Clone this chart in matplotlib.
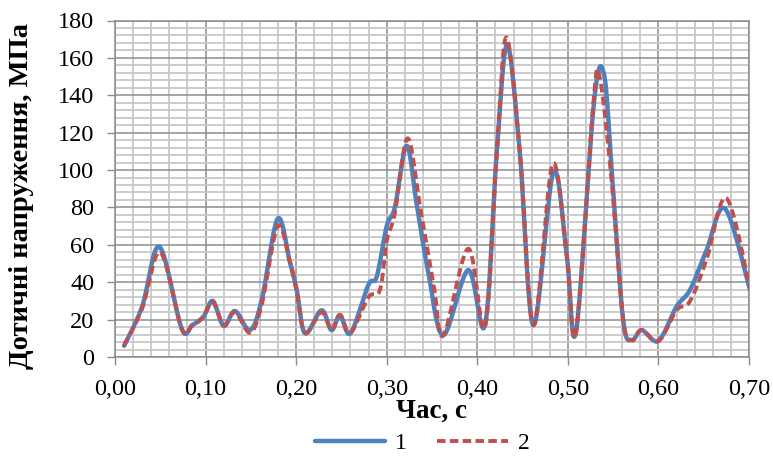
import numpy as np
import matplotlib
matplotlib.use("Agg")
import matplotlib.pyplot as plt
from matplotlib.ticker import MultipleLocator, FuncFormatter

# Series 1 (blue, solid)
t1 = [0.010, 0.030, 0.049, 0.0736, 0.085, 0.0975, 0.108, 0.120, 0.1325, 0.149, 0.162, 0.1796,
      0.193, 0.2006, 0.2098, 0.228, 0.239, 0.2484, 0.260, 0.2797, 0.289, 0.300, 0.309, 0.322,
      0.333, 0.346, 0.3625, 0.390, 0.4085, 0.4214, 0.433, 0.447, 0.462, 0.484, 0.4987, 0.509,
      0.529, 0.540, 0.549, 0.561, 0.5705, 0.5815, 0.600, 0.620, 0.635, 0.653, 0.6735, 0.701]
v1 = [6, 27, 59, 15.3, 17, 21.5, 30, 16.6, 24.6, 14.4, 30.5, 74,
      51, 36, 12.7, 25, 14.4, 22.4, 12.7, 38.5, 43, 70, 80, 113,
      82, 45, 11.7, 46.5, 17, 109, 167, 109, 17, 99, 55, 13.5,
      137, 151, 96, 20, 9, 14.4, 8.7, 27, 36, 57, 79.4, 36]

# Series 2 (red, dashed)
t2 = [0.010, 0.030, 0.050, 0.0736, 0.085, 0.0975, 0.108, 0.120, 0.1325, 0.149, 0.162, 0.1796,
      0.193, 0.2006, 0.2098, 0.228, 0.239, 0.2484, 0.260, 0.2797, 0.2926, 0.300, 0.309, 0.323,
      0.337, 0.352, 0.3625, 0.390, 0.4085, 0.4214, 0.432, 0.447, 0.462, 0.483, 0.4987, 0.509,
      0.528, 0.535, 0.548, 0.561, 0.5705, 0.5815, 0.600, 0.620, 0.635, 0.653, 0.675, 0.701]
v2 = [6, 26, 56, 15, 16.5, 21.5, 29.5, 17, 24, 13, 28, 70,
      51, 35, 13, 24, 14.5, 22.5, 13, 32, 36, 62, 77, 117,
      80, 38, 11.5, 58, 16, 108, 171, 110, 17, 103, 55, 13,
      135, 150, 96, 20, 9, 14.5, 8.5, 25, 30, 52, 85, 37]

series_labels = ["1", "2"]
x_ticks = [0.0, 0.1, 0.2, 0.3, 0.4, 0.5, 0.6, 0.7]
y_ticks = [0, 20, 40, 60, 80, 100, 120, 140, 160, 180]


def smooth(x, y, n=20):
    """Excel-like smoothed line (uniform Catmull-Rom / Bezier)."""
    x = np.asarray(x, float)
    y = np.asarray(y, float)
    P = np.column_stack([x, y])
    P = np.vstack([P[0], P, P[-1]])
    out = []
    s = np.linspace(0, 1, n, endpoint=False)[:, None]
    for i in range(1, len(P) - 2):
        p0, p1, p2, p3 = P[i - 1], P[i], P[i + 1], P[i + 2]
        c1 = p1 + (p2 - p0) / 6.0
        c2 = p2 - (p3 - p1) / 6.0
        seg = ((1 - s) ** 3) * p1 + 3 * ((1 - s) ** 2) * s * c1 + 3 * (1 - s) * s ** 2 * c2 + s ** 3 * p2
        out.append(seg)
    out.append(P[-2][None, :])
    out = np.vstack(out)
    return out[:, 0], out[:, 1]


plt.rcParams['font.family'] = ['Liberation Serif', 'DejaVu Serif']

fig = plt.figure(figsize=(7.73, 4.57), dpi=100)
ax = fig.add_axes([115 / 773, 1 - 357 / 457, (749 - 115) / 773, (357 - 20.5) / 457])

ax.set_xlim(0, 0.70)
ax.set_ylim(0, 180)
ax.set_xticks(x_ticks)
ax.set_yticks(y_ticks)
ax.xaxis.set_minor_locator(MultipleLocator(0.02))
ax.yaxis.set_minor_locator(MultipleLocator(4))
ax.xaxis.set_major_formatter(FuncFormatter(lambda v, p: f"{v:.2f}".replace('.', ',')))
ax.grid(which='minor', color='#c8c8c8', linewidth=1.3, zorder=0)
ax.grid(which='major', color='#8c8c8c', linewidth=1.1, zorder=0)
ax.set_axisbelow(True)
ax.tick_params(which='minor', length=0)
ax.tick_params(which='major', length=6, width=1.0, color='#8c8c8c', labelsize=17.5)
ax.tick_params(axis='x', pad=10)
ax.tick_params(axis='y', pad=9)
for sp in ax.spines.values():
    sp.set_color('#8c8c8c')
    sp.set_linewidth(1.1)

xs, ys = smooth(t1, v1)
ax.plot(xs, ys, color='#4f81bd', linewidth=3.2, solid_capstyle='round', label=series_labels[0], zorder=3)
xs, ys = smooth(t2, v2)
ax.plot(xs, ys, color='#c0504d', linewidth=2.8, linestyle=(0, (2.2, 1.1)), label=series_labels[1], zorder=4)

fig.text(432 / 773, 1 - 411 / 457, "Час, с", fontsize=19.5, fontweight='bold', ha='center', va='center')
fig.text(22 / 773, 1 - 196 / 457, "Дотичні напруження, МПа", fontsize=20.5, fontweight='bold',
         rotation=90, ha='center', va='center')

leg = fig.legend(loc='center', bbox_to_anchor=(422 / 773, 1 - 443 / 457), ncol=2, frameon=False,
                 fontsize=17, handlelength=3.0, columnspacing=1.3, handletextpad=0.4,
                 borderpad=0, borderaxespad=0)

fig.savefig("out.png", dpi=100)
